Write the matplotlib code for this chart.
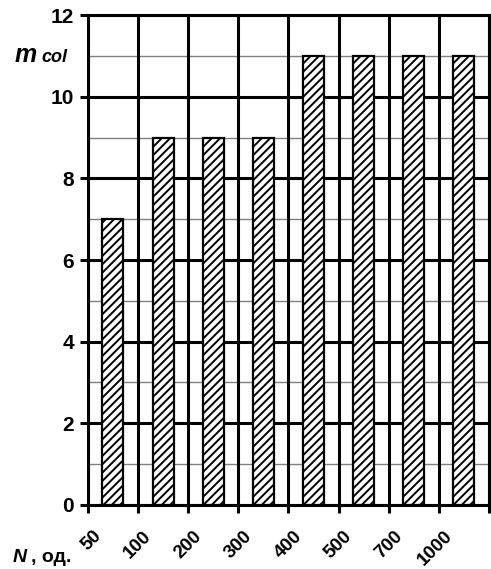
import numpy as np
import matplotlib
matplotlib.use("Agg")
from matplotlib import pyplot as plt
from matplotlib import transforms

# data
categories = ["50", "100", "200", "300", "400", "500", "700", "1000"]
m_col = [7, 9, 9, 9, 11, 11, 11, 11]
y_major = [0, 2, 4, 6, 8, 10, 12]
y_minor = [1, 3, 5, 7, 9, 11]

plt.rcParams['font.family'] = ['Liberation Sans', 'DejaVu Sans']
plt.rcParams['hatch.linewidth'] = 1.4

fig = plt.figure(figsize=(4.91, 5.69), dpi=100)
ax = fig.add_axes([0.179, 0.1125, 0.817, 0.8611])

x = np.arange(len(categories))
lw = 2.2

# grid
for v in y_minor:
    ax.axhline(v, color="#808080", lw=1.0, zorder=1)
for v in y_major:
    ax.axhline(v, color="black", lw=lw, zorder=1)
for b in np.arange(len(categories) + 1) - 0.5:
    ax.axvline(b, color="black", lw=lw, zorder=1)

ax.bar(x, m_col, width=0.42, color="white", edgecolor="black",
       linewidth=1.6, hatch="////", zorder=3)

ax.set_xlim(-0.5, len(categories) - 0.5)
ax.set_ylim(0, 12)
for s in ax.spines.values():
    s.set_linewidth(lw)
    s.set_zorder(4)

ax.set_yticks(y_major)
ax.set_yticklabels([str(v) for v in y_major], fontsize=15, fontweight="bold")
ax.tick_params(axis="y", length=6, width=lw, pad=4)

# x ticks at the boundaries, labels at the centers
ax.set_xticks(np.arange(len(categories) + 1) - 0.5)
ax.set_xticklabels([])
ax.tick_params(axis="x", length=6, width=lw)
off = transforms.ScaledTranslation(-8 / 100, 0, fig.dpi_scale_trans)
for i, c in enumerate(categories):
    ax.text(i, -0.55, c, rotation=45, ha="right", va="top", fontsize=13.5,
            fontweight="bold", rotation_mode="default",
            transform=ax.transData + off)

fig.text(15 / 491, 1 - 62 / 569, "m", fontsize=18, fontweight="bold",
         style="italic", va="baseline")
fig.text(41 / 491, 1 - 62 / 569, "col", fontsize=13, fontweight="bold",
         style="italic", va="baseline")
fig.text(13 / 491, 1 - 562 / 569, "N", fontsize=14, fontweight="bold",
         style="italic", va="baseline")
fig.text(31 / 491, 1 - 562 / 569, ", од.", fontsize=14, fontweight="bold",
         va="baseline")

fig.savefig("out.png", dpi=100)
